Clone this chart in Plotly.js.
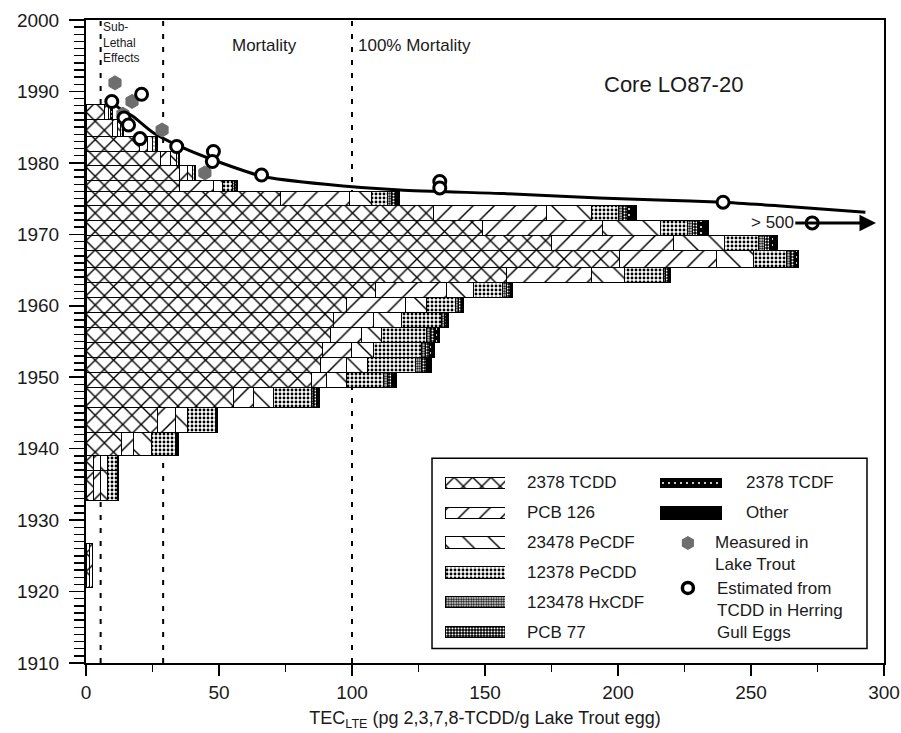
<!DOCTYPE html>
<html>
<head>
<meta charset="utf-8">
<script src="https://cdn.plot.ly/plotly-3.0.1.min.js"></script>
<style>html,body{margin:0;padding:0;background:#fff;}#chart{width:901px;height:733px;}</style>
</head>
<body>
<div id="chart"></div>
<script>
// Sediment slices (years)
var sliceTop = [1988.2, 1986.1, 1983.7, 1981.6, 1979.7, 1977.6, 1976.0, 1974.1, 1972.0, 1969.9, 1967.8, 1965.3, 1963.3, 1961.2, 1959.1, 1957.0, 1954.9, 1952.8, 1950.7, 1948.6, 1945.8, 1942.3, 1939.1, 1937.0, 1926.7];
var sliceBot = [1986.1, 1983.7, 1981.6, 1979.7, 1977.6, 1976.0, 1974.1, 1972.0, 1969.9, 1967.8, 1965.3, 1963.3, 1961.2, 1959.1, 1957.0, 1954.9, 1952.8, 1950.7, 1948.6, 1945.8, 1942.3, 1939.1, 1937.0, 1932.8, 1920.6];

// TEC contributions (pg 2,3,7,8-TCDD / g lake trout egg)
var tcdd   = [7, 10, 20, 28, 35, 35, 73, 130.5, 149, 175, 200.7, 158, 109, 98, 93, 92, 89, 88, 84.6, 55.4, 26.7, 13.5, 3, 3, 1.5];
var pcb126 = [1.5, 2, 3, 3.6, 3, 13, 26.2, 42.5, 45, 46, 36.3, 32, 26.6, 22, 15, 11.5, 10.7, 10, 5.7, 7.4, 6.8, 4.2, 2.5, 2.5, 1.1];
var pecdf  = [0.8, 1, 2, 2.5, 2, 3.5, 8.3, 17, 22, 19, 14, 12.5, 10.2, 8, 10.6, 7.5, 8.3, 8, 7.5, 7.5, 4.8, 7.1, 2.4, 2.5, 0];
var pecdd  = [0.5, 0.8, 1.2, 0.6, 0.7, 3.5, 6, 10, 10, 13, 12.5, 14.5, 10.6, 11, 15, 17, 18, 18, 14.2, 14.3, 10.2, 8.7, 3.8, 3.7, 0];
var hxcdf  = [0.1, 0.1, 0.2, 0.1, 0.1, 0.8, 1.5, 1.7, 2, 2, 1.5, 1, 1.5, 1, 1, 1.5, 1.5, 2, 1.5, 1, 0.4, 0.4, 0.3, 0.3, 0];
var pcb77  = [0.1, 0.1, 0.2, 0.1, 0.1, 0.7, 1.5, 1.7, 2, 2, 1.5, 1, 1.5, 1, 1, 1.5, 1.5, 2, 1.5, 1, 0.3, 0.3, 0.2, 0.2, 0];
var tcdf   = [0, 0, 0.1, 0.1, 0.1, 0.3, 1, 1.7, 2, 1.5, 1, 0.5, 0.5, 0.5, 0.5, 1, 1, 1, 1, 0.5, 0.2, 0.2, 0.1, 0.1, 0];
var other  = [0, 0, 0.1, 0, 0, 0.2, 0.5, 1.7, 2, 1.5, 0.5, 0.3, 0.5, 0.5, 0.3, 1, 1, 1, 0.7, 0.5, 0.2, 0.2, 0.1, 0.1, 0];

// Measured in lake trout
var measX = [10.9, 17.3, 13.9, 28.6, 44.7];
var measY = [1991.2, 1988.6, 1986.8, 1984.6, 1978.6];
// Estimated from TCDD in herring gull eggs
var estX = [9.7, 20.9, 14.3, 16, 20.3, 34.1, 47.9, 47.5, 66, 133, 133, 239.5, 273];
var estY = [1988.6, 1989.6, 1986.3, 1985.3, 1983.4, 1982.3, 1981.6, 1980.2, 1978.3, 1977.4, 1976.5, 1974.5, 1971.6];
// ">500" estimate: label position and off-scale arrow tip
var offLabelX = 258, offTipX = 297, offY = 1971.6;
// Fitted curve
var curveX = [9.7, 12, 17.7, 25, 35.3, 47.9, 66.5, 90, 118, 157, 193, 215, 239.5, 260, 293];
var curveY = [1988.8, 1987.8, 1986.5, 1984.3, 1982.3, 1980.4, 1978.1, 1977.0, 1976.2, 1975.7, 1975.1, 1974.8, 1974.5, 1974.0, 1973.1];

var xTicks = [0, 50, 100, 150, 200, 250, 300];
var yTicks = [1910, 1920, 1930, 1940, 1950, 1960, 1970, 1980, 1990, 2000];

var leftNames  = ['2378 TCDD', 'PCB 126', '23478 PeCDF', '12378 PeCDD', '123478 HxCDF', 'PCB 77'];
var rightNames = ['2378 TCDF', 'Other'];
var measName = 'Measured in<br>Lake Trout';
var estName = 'Estimated from<br>TCDD in Herring<br>Gull Eggs';
// legend row slots in the right column (0 = first row)
var rightRows = [0, 1, 2, 3.5];

var yMid = sliceTop.map(function(t, i){ return (t + sliceBot[i]) / 2; });
var yW = sliceTop.map(function(t, i){ return t - sliceBot[i]; });

var FONT = 'Liberation Sans, Arial, sans-serif';
var TXT = '#1a1a1a';

var pats = [
  {shape: 'x', size: 13, solidity: 0.2, fgcolor: '#000', bgcolor: '#fff', fillmode: 'replace'},
  {shape: '/', size: 15, solidity: 0.1, fgcolor: '#000', bgcolor: '#fff', fillmode: 'replace'},
  {shape: '\\', size: 18, solidity: 0.08, fgcolor: '#000', bgcolor: '#fff', fillmode: 'replace'},
  {shape: '.', size: 4, solidity: 0.4, fgcolor: '#000', bgcolor: '#fff', fillmode: 'replace'},
  {shape: '.', size: 2.5, solidity: 0.55, fgcolor: '#000', bgcolor: '#fff', fillmode: 'replace'},
  {shape: '.', size: 3, solidity: 0.35, fgcolor: '#fff', bgcolor: '#000', fillmode: 'replace'},
  {shape: '.', size: 6, solidity: 0.1, fgcolor: '#fff', bgcolor: '#000', fillmode: 'replace'},
  {shape: ''}
];
var cols = ['#fff', '#fff', '#fff', '#fff', '#fff', '#000', '#000', '#000'];
var series = [tcdd, pcb126, pecdf, pecdd, hxcdf, pcb77, tcdf, other];
var names = leftNames.concat(rightNames);

var traces = [];
series.forEach(function(vals, k){
  traces.push({
    type: 'bar', orientation: 'h', name: names[k],
    x: vals, y: yMid, width: yW,
    marker: {color: cols[k], line: {color: '#000', width: 1}, pattern: pats[k]},
    hoverinfo: 'x+y'
  });
});
traces.push({
  type: 'scatter', mode: 'lines', x: curveX, y: curveY,
  line: {color: '#000', width: 3, shape: 'spline', smoothing: 0.6}, hoverinfo: 'skip'
});
traces.push({
  type: 'scatter', mode: 'markers', name: measName, x: measX, y: measY,
  marker: {symbol: 'hexagon', size: 14, color: '#6e6e6e', line: {color: '#6e6e6e', width: 1}}
});
traces.push({
  type: 'scatter', mode: 'markers', name: estName, x: estX, y: estY,
  marker: {symbol: 'circle', size: 12, color: '#fff', line: {color: '#000', width: 3}}
});

// Legend swatches drawn as bars on small auxiliary axes
leftNames.forEach(function(n, k){
  traces.push({
    type: 'bar', orientation: 'h', x: [1], y: [n], width: 0.38, xaxis: 'x2', yaxis: 'y2',
    marker: {color: cols[k], line: {color: '#000', width: 1}, pattern: pats[k]}, hoverinfo: 'skip'
  });
});
rightNames.forEach(function(n, j){
  var k = leftNames.length + j;
  traces.push({
    type: 'bar', orientation: 'h', x: [1], y: [rightRows[j]], width: j === 0 ? 0.3 : 0.45, xaxis: 'x3', yaxis: 'y3',
    marker: {color: cols[k], line: {color: '#000', width: 1}, pattern: pats[k]}, hoverinfo: 'skip'
  });
});
traces.push({
  type: 'scatter', mode: 'markers', x: [0.45], y: [rightRows[2]], xaxis: 'x3', yaxis: 'y3',
  marker: {symbol: 'hexagon', size: 14, color: '#6e6e6e'}, hoverinfo: 'skip'
});
traces.push({
  type: 'scatter', mode: 'markers', x: [0.45], y: [rightRows[3]], xaxis: 'x3', yaxis: 'y3',
  marker: {symbol: 'circle', size: 11, color: '#fff', line: {color: '#000', width: 3.5}}, hoverinfo: 'skip'
});

var dash = {color: '#000', width: 2, dash: '5px,8px'};
var annotations = [
  {x: 5.5, y: 1996.8, xref: 'x', yref: 'y', xanchor: 'left', yanchor: 'middle', align: 'left', showarrow: false,
   text: 'Sub-<br>Lethal<br>Effects', font: {size: 12, family: FONT, color: TXT}},
  {x: 67, y: 1996.4, xref: 'x', yref: 'y', showarrow: false, text: 'Mortality', font: {size: 17, family: FONT, color: TXT}},
  {x: 101.5, y: 1996.4, xref: 'x', yref: 'y', xanchor: 'left', showarrow: false, text: '100% Mortality', font: {size: 17, family: FONT, color: TXT}},
  {x: 221, y: 1991.0, xref: 'x', yref: 'y', showarrow: false, text: 'Core LO87-20', font: {size: 22, family: FONT, color: TXT}},
  {x: offTipX, y: offY, ax: offLabelX, ay: offY, xref: 'x', yref: 'y', axref: 'x', ayref: 'y',
   text: '> 500', font: {size: 17, family: FONT, color: TXT},
   showarrow: true, arrowhead: 2, arrowsize: 1.1, arrowwidth: 3, arrowcolor: '#000', standoff: 0}
];
leftNames.forEach(function(n){
  annotations.push({x: 0.5501, y: n, xref: 'paper', yref: 'y2', xanchor: 'left', showarrow: false,
    text: n, font: {size: 17, family: FONT, color: TXT}});
});
rightNames.forEach(function(n, j){
  annotations.push({x: 0.8246, y: rightRows[j], xref: 'paper', yref: 'y3', xanchor: 'left', showarrow: false,
    text: n, font: {size: 17, family: FONT, color: TXT}});
});
annotations.push({x: 0.7857, y: rightRows[2] + 0.35, xref: 'paper', yref: 'y3', xanchor: 'left', align: 'left', showarrow: false,
  text: measName, font: {size: 17, family: FONT, color: TXT}});
annotations.push({x: 0.7882, y: rightRows[3] + 0.75, xref: 'paper', yref: 'y3', xanchor: 'left', align: 'left', showarrow: false,
  text: estName, font: {size: 17, family: FONT, color: TXT}});

var layout = {
  width: 901, height: 733,
  margin: {l: 86, r: 17, t: 20, b: 70},
  paper_bgcolor: '#fff', plot_bgcolor: '#fff',
  barmode: 'stack', bargap: 0,
  font: {family: FONT, color: TXT, size: 16},
  showlegend: false,
  xaxis: {
    range: [0, 300], tickvals: xTicks, ticks: 'outside', ticklen: 11, tickwidth: 1.5,
    showline: true, linewidth: 2, linecolor: '#000', mirror: true,
    showgrid: false, zeroline: false, tickfont: {size: 19, family: FONT, color: TXT},
    minor: {dtick: 25, ticks: 'outside', ticklen: 7, tickwidth: 1.5, tickcolor: '#000'},
    tickcolor: '#000',
    title: {text: 'TEC<sub>LTE</sub> (pg 2,3,7,8-TCDD/g Lake Trout egg)', font: {size: 18, family: FONT, color: TXT}, standoff: 10}
  },
  yaxis: {
    range: [1910, 2000], tickvals: yTicks, ticks: 'outside', ticklen: 15, tickwidth: 1.5,
    showline: true, linewidth: 2, linecolor: '#000', mirror: true,
    showgrid: false, zeroline: false, tickfont: {size: 19, family: FONT, color: TXT},
    minor: {dtick: 1, ticks: 'outside', ticklen: 10, tickwidth: 1.5, tickcolor: '#000'},
    tickcolor: '#000', ticklabelstandoff: 6
  },
  xaxis2: {domain: [0.4499, 0.5251], range: [0, 1], visible: false, anchor: 'y2', fixedrange: true},
  yaxis2: {domain: [0.0249, 0.3033], type: 'category', categoryarray: leftNames, categoryorder: 'array',
           range: [5.5, -0.5], visible: false, anchor: 'x2', fixedrange: true},
  xaxis3: {domain: [0.7193, 0.797], range: [0, 1], visible: false, anchor: 'y3', fixedrange: true},
  yaxis3: {domain: [0.0467, 0.3033], range: [5.0, -0.5], visible: false, anchor: 'x3', fixedrange: true},
  shapes: [
    {type: 'line', xref: 'x', yref: 'y', x0: 5.5, x1: 5.5, y0: 1910, y1: 2000, line: dash, layer: 'below'},
    {type: 'line', xref: 'x', yref: 'y', x0: 29, x1: 29, y0: 1910, y1: 2000, line: dash, layer: 'below'},
    {type: 'line', xref: 'x', yref: 'y', x0: 100, x1: 100, y0: 1910, y1: 2000, line: dash, layer: 'below'},
    {type: 'rect', xref: 'paper', yref: 'paper', x0: 0.4336, x1: 0.9787, y0: 0.0226, y1: 0.3185,
     line: {color: '#000', width: 1.5}, fillcolor: 'rgba(0,0,0,0)', layer: 'above'}
  ],
  annotations: annotations
};

Plotly.newPlot('chart', traces, layout, {displayModeBar: false, staticPlot: true});
</script>
</body>
</html>
